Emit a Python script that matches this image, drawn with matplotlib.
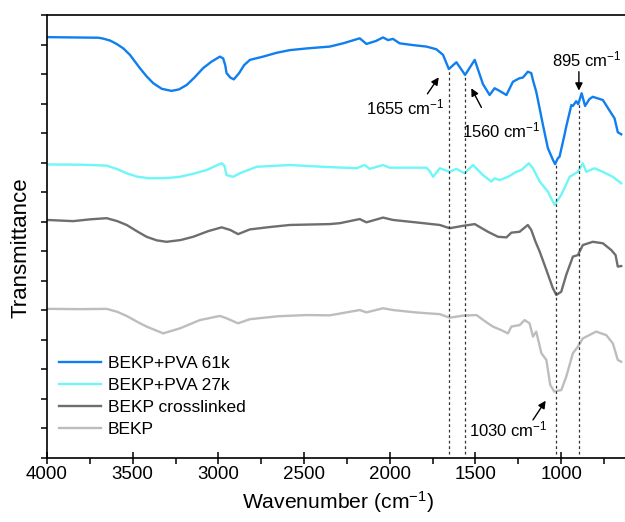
import matplotlib
matplotlib.use("Agg")
import matplotlib.pyplot as plt
from matplotlib.ticker import MultipleLocator

plt.rcParams['font.family'] = ['Liberation Sans', 'DejaVu Sans']
plt.rcParams['mathtext.fontset'] = 'custom'
plt.rcParams['mathtext.rm'] = 'Liberation Sans'
plt.rcParams['mathtext.default'] = 'regular'

# FTIR spectra, stacked with offsets (arbitrary transmittance units)
wn_61k = [4000, 3850, 3700, 3672, 3630, 3594, 3555, 3516, 3458, 3420, 3380, 3330, 3273,
          3230, 3185, 3140, 3089, 3040, 2991, 2972, 2960, 2952, 2930, 2910, 2879, 2850,
          2816, 2739, 2660, 2583, 2480, 2350, 2272, 2175, 2136, 2080, 2039, 2010, 1981,
          1942, 1864, 1786, 1728, 1689, 1655, 1611, 1560, 1504, 1456, 1417, 1388, 1359,
          1319, 1281, 1242, 1223, 1194, 1174, 1164, 1145, 1135, 1106, 1077, 1048, 1035,
          1019, 1009, 980, 970, 940, 931, 912, 900, 880, 860, 835, 815, 756, 707, 688,
          669, 649]
t_61k = [14.25, 14.24, 14.23, 14.20, 14.13, 14.02, 13.87, 13.65, 13.20, 12.93, 12.69, 12.50,
         12.43, 12.48, 12.63, 12.88, 13.20, 13.42, 13.59, 13.53, 13.30, 13.03, 12.88, 12.82,
         13.03, 13.30, 13.48, 13.59, 13.72, 13.81, 13.87, 13.93, 14.04, 14.21, 14.02, 14.12,
         14.24, 14.15, 14.19, 14.04, 13.98, 13.93, 13.84, 13.65, 13.17, 13.40, 12.97, 13.48,
         12.66, 12.29, 12.52, 12.43, 12.29, 12.74, 12.86, 12.88, 13.08, 13.03, 12.79, 12.40,
         12.12, 11.28, 10.49, 10.10, 9.95, 10.15, 10.20, 10.94, 11.22, 11.95, 11.92, 12.08,
         11.98, 12.35, 11.92, 12.15, 12.23, 12.12, 11.67, 11.50, 11.03, 10.96]

wn_27k = [4000, 3800, 3652, 3590, 3535, 3470, 3399, 3300, 3224, 3150, 3069, 2981, 2965,
          2952, 2914, 2875, 2777, 2583, 2389, 2194, 2146, 2117, 2039, 2000, 1786, 1765,
          1747, 1708, 1650, 1611, 1563, 1514, 1456, 1407, 1388, 1359, 1310, 1261, 1232,
          1188, 1164, 1125, 1077, 1038, 999, 950, 902, 873, 853, 805, 756, 698, 649]
t_27k = [9.94, 9.93, 9.90, 9.78, 9.64, 9.52, 9.47, 9.48, 9.52, 9.62, 9.75, 9.98, 9.90,
         9.58, 9.52, 9.64, 9.86, 9.92, 9.86, 9.81, 9.92, 9.79, 9.92, 9.83, 9.83, 9.70,
         9.52, 9.81, 9.69, 9.79, 9.64, 9.92, 9.58, 9.36, 9.47, 9.41, 9.52, 9.69, 9.75,
         9.98, 9.81, 9.36, 9.02, 8.57, 8.91, 9.52, 9.69, 9.98, 9.69, 9.81, 9.69, 9.52, 9.30]

wn_cl = [4000, 3847, 3750, 3652, 3590, 3535, 3470, 3419, 3360, 3302, 3220, 3147, 3060,
         2981, 2930, 2885, 2816, 2700, 2583, 2350, 2292, 2175, 2136, 2039, 1981, 1850,
         1708, 1650, 1573, 1504, 1427, 1368, 1319, 1290, 1242, 1194, 1174, 1149, 1125,
         1086, 1048, 1028, 999, 970, 931, 902, 873, 815, 756, 707, 682, 669, 649]
t_cl = [8.06, 8.02, 8.08, 8.12, 8.02, 7.89, 7.66, 7.49, 7.37, 7.32, 7.38, 7.49, 7.68,
        7.81, 7.72, 7.58, 7.74, 7.82, 7.89, 7.92, 7.95, 8.09, 7.98, 8.14, 8.06, 7.98,
        7.89, 7.78, 7.86, 7.92, 7.66, 7.49, 7.47, 7.63, 7.66, 7.89, 7.72, 7.32, 6.99,
        6.37, 5.75, 5.52, 5.63, 6.20, 6.82, 6.87, 7.21, 7.32, 7.27, 7.04, 6.87, 6.48, 6.50]

wn_bekp = [4000, 3800, 3652, 3590, 3535, 3470, 3419, 3322, 3224, 3108, 2991, 2952, 2885,
           2816, 2650, 2486, 2350, 2175, 2136, 2039, 1981, 1850, 1708, 1650, 1573, 1494,
           1427, 1398, 1349, 1310, 1290, 1242, 1213, 1184, 1164, 1145, 1115, 1086, 1063,
           1040, 999, 970, 931, 902, 873, 795, 736, 698, 669, 649]
t_bekp = [5.05, 5.04, 5.05, 4.95, 4.81, 4.60, 4.45, 4.22, 4.39, 4.67, 4.81, 4.73, 4.56,
          4.70, 4.80, 4.84, 4.83, 5.01, 4.93, 5.07, 5.01, 4.93, 4.87, 4.75, 4.82, 4.84,
          4.56, 4.45, 4.33, 4.22, 4.45, 4.50, 4.67, 4.56, 4.11, 4.28, 3.55, 3.32, 2.47,
          2.25, 2.30, 2.75, 3.55, 3.77, 4.05, 4.28, 4.16, 3.88, 3.32, 3.26]

labels = ['BEKP+PVA 61k', 'BEKP+PVA 27k', 'BEKP crosslinked', 'BEKP']
colors = ['#0f7ff0', '#6ff6f6', '#6e6e6e', '#bdbdbd']

# marked bands: position, top of guide line, label text pos, arrow tail, arrow head
bands = [1655, 1560, 1030, 895]
band_top = [13.17, 12.97, 9.95, 11.98]
band_text = [(1907, 11.88), (1347, 11.09), (1306, 0.95), (851, 13.48)]
band_tail = [(1780, 12.33), (1465, 11.87), (1164, 1.29), (896, 13.08)]
band_head = [(1714, 12.89), (1524, 12.52), (1090, 1.94), (896, 12.44)]

fig = plt.figure(figsize=(6.25, 5.22), dpi=100)
ax = fig.add_axes([0.0752, 0.1226, 0.9322, 0.8487])

series = [(wn_61k, t_61k), (wn_27k, t_27k), (wn_cl, t_cl), (wn_bekp, t_bekp)]
for (wn, t), lab, c in zip(series, labels, colors):
    ax.plot(wn, t, color=c, lw=1.7, label=lab)

for b, top in zip(bands, band_top):
    ax.vlines(b, 0.15, top, colors='#333333', linestyles=(0, (2.2, 2.2)), lw=0.9)

for b, tp, tl, hd in zip(bands, band_text, band_tail, band_head):
    ax.text(tp[0], tp[1], '%d cm$^{-1}$' % b, ha='center', va='center', fontsize=12)
    ax.annotate('', xy=hd, xytext=tl,
                arrowprops=dict(arrowstyle='-|>', color='black', lw=1.0,
                                mutation_scale=11, shrinkA=0, shrinkB=0))

ax.set_xlim(4000, 600)
ax.set_ylim(0, 15)
ax.xaxis.set_major_locator(MultipleLocator(500))
ax.xaxis.set_minor_locator(MultipleLocator(250))
ax.yaxis.set_major_locator(MultipleLocator(1))
ax.set_yticklabels([])
ax.tick_params(axis='x', which='major', direction='inout', length=8, width=1.1,
               labelsize=13.5, pad=2)
ax.tick_params(axis='x', which='minor', direction='out', length=4.5, width=1.1)
ax.tick_params(axis='y', which='major', direction='out', length=4.5, width=1.1)
for s in ax.spines.values():
    s.set_linewidth(1.2)

ax.set_xlabel('Wavenumber (cm$^{-1}$)', fontsize=15.2, labelpad=4)
ax.set_ylabel('Transmittance', fontsize=16)
ax.yaxis.set_label_coords(-0.027, 0.474)

ax.legend(loc='lower left', bbox_to_anchor=(0.0, 0.02), frameon=False, fontsize=12.5,
          handlelength=2.4, handletextpad=0.4, labelspacing=0.4, borderpad=0.2)

fig.savefig('out.png', dpi=100)
